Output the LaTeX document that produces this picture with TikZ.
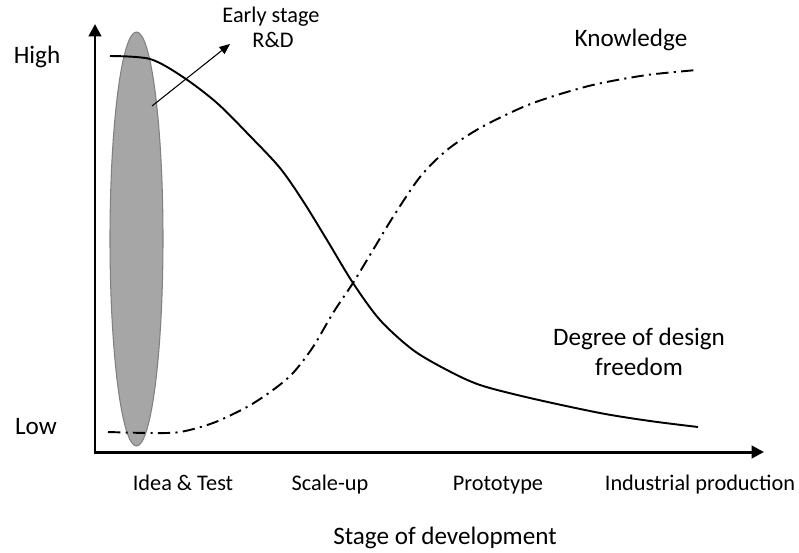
\documentclass[tikz,border=0pt]{standalone}
\usepackage{fontspec}
\setmainfont{Carlito}
\usetikzlibrary{arrows.meta}

\begin{document}
\begin{tikzpicture}[x=0.02cm,y=-0.02cm,
    lbl/.style={anchor=base,inner sep=0pt,font=\fontsize{14.3}{17}\selectfont},
    small/.style={lbl,font=\fontsize{12.7}{15}\selectfont},
    axis/.style={line width=1.7pt,-{Triangle[length=7pt,width=7pt]}},
    freedom/.style={line width=1.1pt},
    knowledge/.style={line width=1.1pt,dash pattern=on 7pt off 3pt on 1.2pt off 3pt}]
    \useasboundingbox (0,0) rectangle (799,552);

    % Define axes
    \coordinate (O) at (95,452);
    \coordinate (Ytop) at (95,24);
    \coordinate (Xend) at (764,452);

    % Early stage region
    \draw[draw=black!50,fill=black!35,line width=0.6pt] (136.5,239) ellipse (26.5 and 207);

    \draw[axis] ([yshift=-0.85pt]O) -- (Ytop);
    \draw[axis] ([xshift=-0.85pt]O) -- (Xend);

    % Curves
    \draw[freedom] plot[smooth] coordinates {(110,56) (150,59) (183,77) (217,103)
        (250,136) (280,168) (303,201) (327,240) (353,283) (380,320) (413,350) (447,370)
        (480,385) (530,398) (600,413) (650,421) (698,427)};
    \draw[knowledge] plot[smooth] coordinates {(108,432) (150,433) (180,432) (213,423)
        (247,407) (273,390) (293,373) (313,347) (333,313) (353,283) (373,250) (393,217)
        (420,177) (447,150) (480,128) (523,107) (557,95) (597,84) (647,75) (697,70)};

    % Labels
    \node[lbl] (high) at (37,63) {High};
    \node[lbl] (low) at (36,434) {Low};
    \node[small] (early) at (271,22) {Early stage};
    \node[small] (rd) at (273,47) {R\&D};
    \node[lbl] (know) at (631,46) {Knowledge};
    \node[lbl] (deg) at (639,345) {Degree of design};
    \node[lbl] (free) at (639,375) {freedom};
    \node[lbl] (stage) at (445,544) {Stage of development};

    \foreach \name/\x/\txt in {idea/183/Idea \& Test,scale/330/Scale-up,proto/498/Prototype,indus/700/Industrial production} {
        \node[small] (\name) at (\x,490) {\txt};
    }

    \coordinate (Rin) at (152,106);
    \coordinate (Rtip) at (230,44);
    \draw[line width=0.6pt,-{Triangle[length=6pt,width=5pt]}] (Rin) -- (Rtip);

\end{tikzpicture}
\end{document}
